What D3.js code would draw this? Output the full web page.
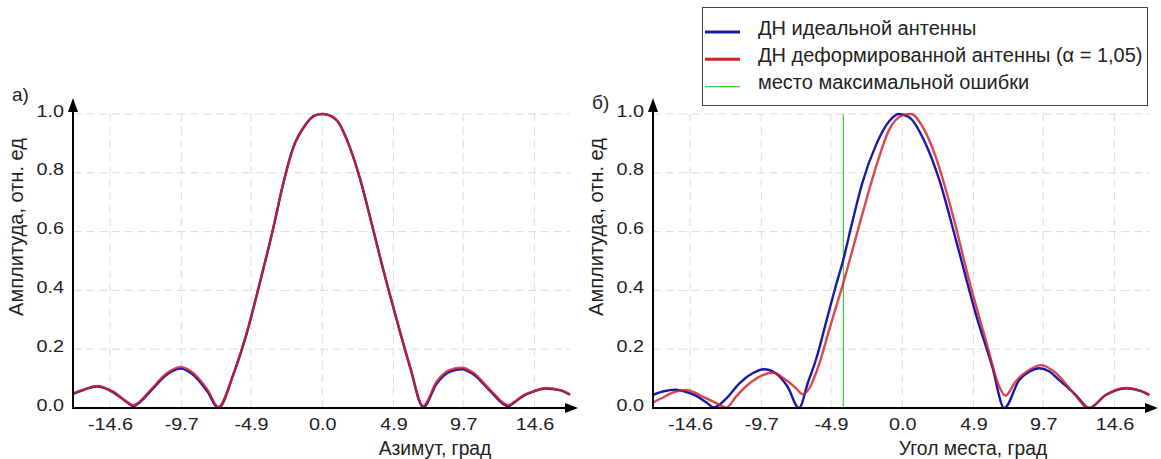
<!DOCTYPE html>
<html><head><meta charset="utf-8">
<script src="https://cdn.jsdelivr.net/npm/d3@7"></script>
<style>
html,body{margin:0;padding:0;background:#fff;}
svg{display:block;font-family:"Liberation Sans",Arial,sans-serif;}
</style></head><body>
<svg id="chart" width="1161" height="459"></svg>
<script>
// ---- Azimuth pattern (panel а) ----
const azIdealDeg = [-17.1,-16.4,-15.5,-14.4,-13.4,-13.0,-12.6,-11.8,-10.7,-9.75,-8.9,-7.9,-7.15,-6.1,-5.2,-4.3,-3.35,-2.7,-2.0,-1.2,-0.5,0,0.5,1.2,1.7,2.6,3.4,4.2,5.1,6.05,6.95,7.9,8.8,9.6,10.4,11.55,12.8,13.2,13.9,14.6,15.35,16.4,17.05];
const azIdealAmp = [0.049,0.062,0.073,0.054,0.018,0.006,0.018,0.058,0.113,0.134,0.114,0.056,0.0,0.116,0.253,0.424,0.616,0.76,0.885,0.96,0.995,1.0,0.995,0.965,0.912,0.78,0.628,0.47,0.305,0.138,0.003,0.085,0.124,0.132,0.115,0.058,0.006,0.018,0.043,0.057,0.066,0.06,0.045];
const azDeformDeg = [-17.1,-16.4,-15.5,-14.4,-13.4,-13.0,-12.6,-11.8,-10.7,-9.75,-8.9,-7.9,-7.15,-6.1,-5.2,-4.3,-3.35,-2.7,-2.0,-1.2,-0.5,0,0.5,1.2,1.7,2.6,3.4,4.2,5.1,6.05,6.95,7.9,8.8,9.6,10.4,11.55,12.8,13.2,13.9,14.6,15.35,16.4,17.05];
const azDeformAmp = [0.05,0.063,0.075,0.056,0.02,0.01,0.02,0.062,0.118,0.14,0.12,0.062,0.004,0.118,0.255,0.425,0.617,0.76,0.885,0.96,0.995,1.0,0.995,0.965,0.912,0.78,0.628,0.47,0.305,0.14,0.008,0.092,0.13,0.137,0.12,0.062,0.01,0.02,0.045,0.058,0.068,0.061,0.046];

// ---- Elevation pattern (panel б) ----
const elIdealDeg = [-17.2,-16.4,-15.6,-14.9,-14.2,-13.5,-12.95,-12.1,-11.2,-10.3,-9.5,-8.7,-7.9,-7.1,-6.5,-5.9,-5.25,-4.6,-4.05,-3.4,-2.75,-1.8,-0.9,-0.25,0.45,1.6,2.55,3.7,5.05,6.2,7.02,8.05,8.8,9.43,10.1,10.8,11.95,12.87,14.0,14.7,15.4,16.4,17.0];
const elIdealAmp = [0.044,0.057,0.062,0.055,0.042,0.02,0.002,0.033,0.084,0.118,0.132,0.118,0.073,0.0,0.085,0.17,0.29,0.41,0.505,0.64,0.765,0.895,0.975,1.0,0.99,0.9,0.776,0.571,0.322,0.14,0.0,0.095,0.125,0.135,0.125,0.095,0.044,0.0,0.044,0.06,0.067,0.058,0.044];
const elDeformDeg = [-17.2,-16.5,-16.0,-15.4,-14.9,-14.3,-13.7,-12.7,-12.1,-11.45,-10.5,-9.6,-8.9,-8.0,-7.3,-6.85,-6.4,-5.7,-5.0,-4.0,-2.73,-1.8,-0.9,0.0,0.6,1.4,2.3,3.45,4.6,5.75,6.68,7.1,7.8,8.75,9.55,10.55,11.7,12.85,14.0,14.7,15.4,16.4,17.0];
const elDeformAmp = [0.018,0.035,0.048,0.058,0.061,0.053,0.038,0.014,0.001,0.038,0.084,0.112,0.12,0.095,0.067,0.047,0.067,0.152,0.27,0.435,0.662,0.821,0.946,0.995,1.0,0.957,0.855,0.662,0.435,0.231,0.073,0.042,0.09,0.13,0.146,0.12,0.056,0.0,0.044,0.062,0.068,0.058,0.045];

// angle of the largest discrepancy between the two elevation patterns
const maxErrorDeg = -4.05;

// ---- Axis ticks and labels ----
const xTicks = [-14.6, -9.7, -4.9, 0.0, 4.9, 9.7, 14.6];
const yTicks = [0.0, 0.2, 0.4, 0.6, 0.8, 1.0];
const xDomain = [-17.15, 17.05];
const yDomain = [0, 1];

const panelTags = ["а)", "б)"];
const xTitles = ["Азимут, град", "Угол места, град"];
const yTitle = "Амплитуда, отн. ед";
const legendLabels = ["ДН идеальной антенны", "ДН деформированной антенны (α = 1,05)", "место максимальной ошибки"];

const BLUE = "#1a1aa8", RED = "#d41f2a", GREEN = "#3ccf3c";
const fmt = d => d.toFixed(1);

const svg = d3.select("#chart");
svg.append("rect").attr("width", 1161).attr("height", 459).attr("fill", "#fff");

const panels = [
  {left: 73, right: 570, tag: panelTags[0], tagY: 101, title: xTitles[0], titleX: 435,
   ideal: [azIdealDeg, azIdealAmp], deform: [azDeformDeg, azDeformAmp], marker: null},
  {left: 653, right: 1150, tag: panelTags[1], tagY: 109, title: xTitles[1], titleX: 973,
   ideal: [elIdealDeg, elIdealAmp], deform: [elDeformDeg, elDeformAmp], marker: maxErrorDeg}
];

panels.forEach(p => {
  const x = d3.scaleLinear().domain(xDomain).range([p.left, p.right]);
  const y = d3.scaleLinear().domain(yDomain).range([408, 114]);
  const g = svg.append("g");

  // dashed grid
  g.append("g").selectAll("line").data(xTicks).join("line")
    .attr("x1", d => x(d)).attr("x2", d => x(d))
    .attr("y1", y(0)).attr("y2", y(1))
    .attr("stroke", "#dcdcdc").attr("stroke-width", 1).attr("stroke-dasharray", "8,5");
  g.append("g").selectAll("line").data(yTicks.filter(d => d > 0)).join("line")
    .attr("x1", x.range()[0]).attr("x2", x.range()[1])
    .attr("y1", d => y(d)).attr("y2", d => y(d))
    .attr("stroke", "#dcdcdc").attr("stroke-width", 1).attr("stroke-dasharray", "8,5");

  // marker of the maximum error
  if (p.marker !== null) {
    g.append("line")
      .attr("x1", x(p.marker)).attr("x2", x(p.marker))
      .attr("y1", y(0)).attr("y2", y(1))
      .attr("stroke", GREEN).attr("stroke-width", 1.2);
  }

  // pattern curves
  const line = d3.line().x(d => x(d[0])).y(d => y(d[1])).curve(d3.curveMonotoneX);
  const pts = arr => arr[0].map((v, i) => [v, arr[1][i]]);
  g.append("path").attr("d", line(pts(p.ideal)))
    .attr("fill", "none").attr("stroke", BLUE).attr("stroke-width", 2.4).attr("stroke-linejoin", "round");
  g.append("path").attr("d", line(pts(p.deform)))
    .attr("fill", "none").attr("stroke", RED).attr("stroke-opacity", 0.82).attr("stroke-width", 2.4).attr("stroke-linejoin", "round");

  // axes with tick labels
  const xAxis = d3.axisBottom(x).tickValues(xTicks).tickFormat(fmt).tickSize(0).tickPadding(10);
  const yAxis = d3.axisLeft(y).tickValues(yTicks).tickFormat(fmt).tickSize(0).tickPadding(7.5);
  const gx = g.append("g").attr("transform", `translate(0,${y(0)})`).call(xAxis);
  const gy = g.append("g").attr("transform", `translate(${x.range()[0]},0)`).call(yAxis);
  [gx, gy].forEach(a => {
    a.select(".domain").remove();
    a.selectAll("text").attr("font-family", "'Liberation Sans',Arial,sans-serif")
      .attr("font-size", 16.5).attr("fill", "#222").attr("transform", "scale(1.2,1)");
  });
  gy.selectAll("text").attr("dy", "0.13em");

  // axis lines with arrowheads
  const x0 = x.range()[0], x1 = x.range()[1] + 8, yb = y(0), yt = y(1) - 16;
  g.append("line").attr("x1", x0).attr("x2", x1 - 6).attr("y1", yb).attr("y2", yb)
    .attr("stroke", "#000").attr("stroke-width", 2);
  g.append("path").attr("d", `M${x1},${yb} L${x1 - 13},${yb - 5} L${x1 - 13},${yb + 5} Z`).attr("fill", "#000");
  g.append("line").attr("x1", x0).attr("x2", x0).attr("y1", yb + 1).attr("y2", yt + 6)
    .attr("stroke", "#000").attr("stroke-width", 2);
  g.append("path").attr("d", `M${x0},${yt} L${x0 - 5},${yt + 14} L${x0 + 5},${yt + 14} Z`).attr("fill", "#000");

  // titles
  g.append("text").attr("x", p.titleX).attr("y", 455).attr("text-anchor", "middle")
    .attr("font-size", 19.3).attr("fill", "#222").text(p.title);
  g.append("text").attr("transform", `translate(${x0 - 50},227) rotate(-90)`).attr("text-anchor", "middle")
    .attr("font-size", 20).attr("fill", "#222").text(yTitle);
  g.append("text").attr("x", x0 - 61).attr("y", p.tagY)
    .attr("font-size", 19).attr("fill", "#222").text(p.tag);
});

// legend
const lg = svg.append("g");
lg.append("rect").attr("x", 702.5).attr("y", 7.5).attr("width", 445).attr("height", 98)
  .attr("fill", "#fff").attr("stroke", "#444").attr("stroke-width", 1);
const legendItems = [
  {label: legendLabels[0], color: BLUE, w: 3},
  {label: legendLabels[1], color: RED, w: 3},
  {label: legendLabels[2], color: GREEN, w: 1.2}
];
legendItems.forEach((it, i) => {
  const yy = 33 + i * 27.3;
  lg.append("line").attr("x1", 705).attr("x2", 740).attr("y1", yy - 1).attr("y2", yy - 1)
    .attr("stroke", it.color).attr("stroke-width", it.w);
  lg.append("text").attr("x", 758).attr("y", yy + 1.5).attr("font-size", 20).attr("fill", "#222").text(it.label);
});
</script>
</body></html>
